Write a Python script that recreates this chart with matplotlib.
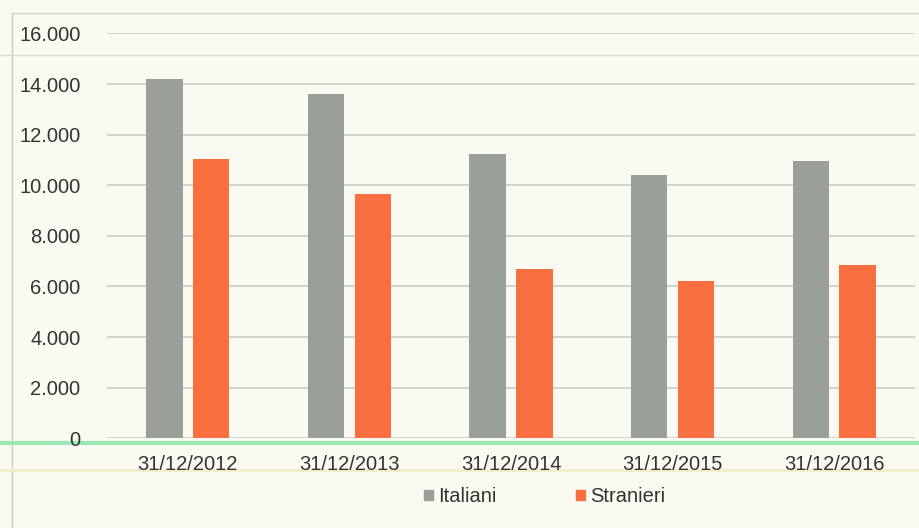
import numpy as np
import matplotlib
matplotlib.use('Agg')
import matplotlib.pyplot as plt
from matplotlib.lines import Line2D
from matplotlib.patches import Patch

# data
dates = ['31/12/2012', '31/12/2013', '31/12/2014', '31/12/2015', '31/12/2016']
italiani = [14200, 13600, 11250, 10400, 10950]
stranieri = [11050, 9650, 6700, 6200, 6850]
yticks = [0, 2000, 4000, 6000, 8000, 10000, 12000, 14000, 16000]
ylabels = ['0', '2.000', '4.000', '6.000', '8.000', '10.000', '12.000', '14.000', '16.000']

bg = '#fbfaf2'
grey = '#9a9f9a'
orange = '#f8703f'
txt = '#333333'

plt.rcParams['font.family'] = ['Liberation Sans', 'DejaVu Sans']

fig = plt.figure(figsize=(9.2, 5.28), dpi=100)
fig.patch.set_facecolor(bg)
ax = fig.add_axes([0.1163, 0.1699, 0.8783, 0.7667])
ax.set_facecolor('none')

x = np.arange(len(dates))
w = 0.226
ax.bar(x - 0.145, italiani, w, color=grey, zorder=3)
ax.bar(x + 0.145, stranieri, w, color=orange, zorder=3)

ax.set_xlim(-0.5, len(dates) - 0.5)
ax.set_ylim(0, 16000)
ax.set_yticks(yticks)
ax.set_yticklabels(ylabels)
ax.set_xticks(x)
ax.set_xticklabels(dates)
ax.tick_params(axis='both', length=0, labelsize=14.5, colors=txt)
ax.tick_params(axis='y', pad=19)
ax.tick_params(axis='x', pad=12)
ax.grid(axis='y', color='#cfd0cb', linewidth=1.3, zorder=0)
for s in ax.spines.values():
    s.set_visible(False)

# scan frame and stray lines, kept behind the axes content
def scan_line(xs, ys, c, lw):
    fig.add_artist(Line2D(xs, ys, transform=fig.transFigure, color=c, lw=lw, zorder=-1))

scan_line([0.013, 0.013], [0, 0.976], '#c9c9c4', 1)
scan_line([0.013, 1], [0.976, 0.976], '#d2d2cc', 1)
scan_line([0, 1], [0.896, 0.896], '#dcdcd5', 1)
scan_line([0, 1], [1 - 443 / 528, 1 - 443 / 528], '#9be8b4', 3)
scan_line([0, 1], [1 - 470 / 528, 1 - 470 / 528], '#f1eec6', 2)

handles = [Patch(color=grey, label='Italiani'), Patch(color=orange, label='Stranieri')]
fig.legend(handles=handles, loc='center', bbox_to_anchor=(0.592, 0.0593), ncol=2,
           frameon=False, fontsize=14.5, labelcolor=txt, handlelength=0.45, handleheight=0.45,
           handletextpad=0.3, columnspacing=3.9)

fig.savefig('out.png', dpi=100, facecolor=bg)
